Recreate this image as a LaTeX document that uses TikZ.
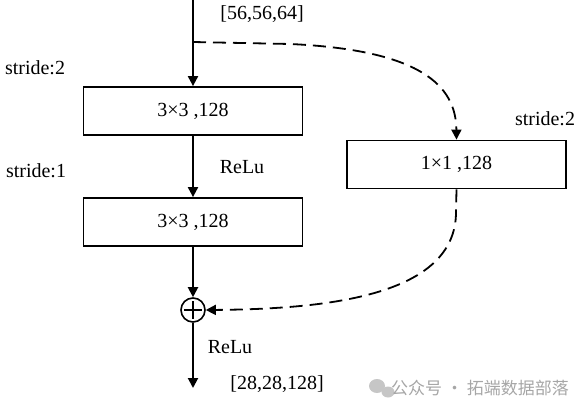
\documentclass[tikz,border=0pt]{standalone}
\usepackage{fontspec}
\setmainfont{Liberation Serif}
\newfontfamily\cjk{Noto Sans CJK SC}
\usetikzlibrary{arrows.meta}

\begin{document}
\begin{tikzpicture}[x=0.5pt,y=-0.5pt,
  blk/.style={draw,line width=0.9pt,minimum width=109.5pt,minimum height=24pt,inner sep=0pt,font=\fontsize{10}{12}\selectfont},
  lbl/.style={inner sep=0pt,font=\fontsize{10}{12}\selectfont},
  flow/.style={line width=1pt,-{Triangle[length=5pt,width=5pt]}},
  skip/.style={flow,line width=0.9pt,dash pattern=on 6.5pt off 3.5pt}]
  \useasboundingbox (0,0) rectangle (582,411);
  % main path
  \coordinate (in) at (193,0);
  \coordinate (split) at (193,42);
  \node[blk] (conv1) at (193,111) {3×3 ,128};
  \node[blk] (conv2) at (193,222) {3×3 ,128};
  \node[draw,circle,line width=0.8pt,minimum size=12pt,inner sep=0pt] (sum) at (193,310) {};
  \draw[line width=0.8pt] ([yshift=4.5pt]sum.center) -- ([yshift=-4.5pt]sum.center)
    ([xshift=-4.5pt]sum.center) -- ([xshift=4.5pt]sum.center);
  \coordinate (out) at (193,388);
  \draw[flow] (in) -- (conv1);
  \draw[flow] (conv1) -- (conv2);
  \draw[flow] (conv2) -- (sum);
  \draw[flow] (sum) -- (out);
  % shortcut
  \node[blk] (proj) at (456.5,164.5) {1×1 ,128};
  \draw[skip] (split) -- (290,44) .. controls (420,50) and (456,85) .. (proj.north);
  \draw[skip] (proj.south) -- (456,212) .. controls (456,295) and (330,309) .. (sum.east);
  % labels
  \node[lbl] (shapein) at (262,14) {[56,56,64]};
  \node[lbl] (s1) at (35,68) {stride:2};
  \node[lbl] (s2) at (36,171) {stride:1};
  \node[lbl] (s3) at (545,119) {stride:2};
  \node[lbl] (act1) at (242,167) {ReLu};
  \node[lbl] (act2) at (230,347) {ReLu};
  \node[lbl] (shapeout) at (277,384) {[28,28,128]};
  % watermark
  \fill[gray!45] (377,386) ellipse (8 and 7);
  \fill[gray!45] (388,392) ellipse (6.5 and 5.5);
  \node[inner sep=0pt,text=gray!70,font=\cjk\fontsize{8.5}{10}\selectfont] (mark) at (480,388) {公众号 · 拓端数据部落};
\end{tikzpicture}
\end{document}
